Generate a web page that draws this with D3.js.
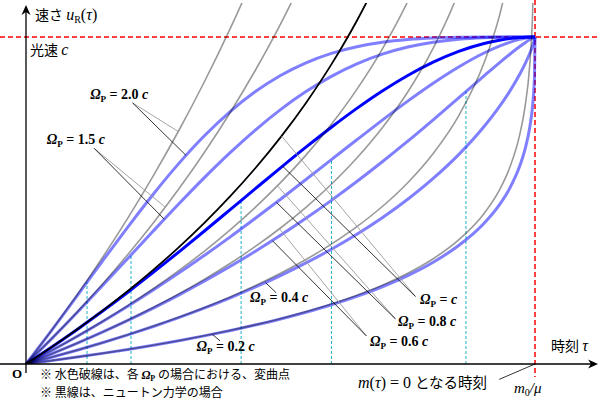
<!DOCTYPE html>
<html>
<head>
<meta charset="utf-8">
<script src="https://cdn.jsdelivr.net/npm/d3@7"></script>
<style>
  body { margin: 0; background: #fff; }
  svg { display: block; }
  text { white-space: pre; }
  .jp { font-family: "Noto Sans CJK JP", sans-serif; }
  .math { font-family: "Liberation Serif", "DejaVu Serif", serif; }
</style>
</head>
<body>
<svg width="600" height="400"></svg>
<script>
// 時刻 τ を m0/μ で割った値
const tSamples = [0, 0.05, 0.1, 0.15, 0.2, 0.25, 0.3, 0.35, 0.4, 0.45, 0.5, 0.55, 0.6, 0.65, 0.7,
                  0.75, 0.8, 0.85, 0.9, 0.93, 0.95, 0.97, 0.98, 0.99, 0.995, 0.998, 0.999, 1];

// 相対論の場合の速さ u_R / c  (Ω_P = 0.2c ... 2.0c)
const relU02 = [0, 0.0103, 0.0211, 0.0325, 0.0446, 0.0575, 0.0712, 0.0860, 0.1018, 0.1190, 0.1377, 0.1584, 0.1812, 0.2069,
                0.2362, 0.2704, 0.3112, 0.3622, 0.4305, 0.4868, 0.5364, 0.6052, 0.6541, 0.7264, 0.7856, 0.8463, 0.8813, 1];
const relU04 = [0, 0.0205, 0.0421, 0.0649, 0.0890, 0.1146, 0.1417, 0.1706, 0.2016, 0.2347, 0.2704, 0.3090, 0.3509, 0.3969,
                0.4475, 0.5039, 0.5675, 0.6404, 0.7264, 0.7870, 0.8331, 0.8859, 0.9162, 0.9510, 0.9716, 0.9862, 0.9921, 1];
const relU06 = [0, 0.0308, 0.0631, 0.0972, 0.1331, 0.1709, 0.2108, 0.2529, 0.2973, 0.3441, 0.3935, 0.4455, 0.5004, 0.5580,
                0.6184, 0.6814, 0.7468, 0.8138, 0.8813, 0.9210, 0.9465, 0.9707, 0.9819, 0.9921, 0.9965, 0.9988, 0.9995, 1];
const relU08 = [0, 0.0410, 0.0841, 0.1293, 0.1766, 0.2262, 0.2779, 0.3316, 0.3873, 0.4449, 0.5039, 0.5641, 0.6250, 0.6858,
                0.7457, 0.8038, 0.8585, 0.9082, 0.9510, 0.9720, 0.9836, 0.9927, 0.9962, 0.9987, 0.9996, 0.9999, 1, 1];
const relU10 = [0, 0.0513, 0.1050, 0.1611, 0.2195, 0.2800, 0.3423, 0.4060, 0.4706, 0.5355, 0.6000, 0.6632, 0.7241, 0.7817,
                0.8349, 0.8824, 0.9231, 0.9560, 0.9802, 0.9902, 0.9950, 0.9982, 0.9992, 0.9998, 1, 1, 1, 1];
const relU15 = [0, 0.0768, 0.1567, 0.2391, 0.3228, 0.4066, 0.4892, 0.5691, 0.6447, 0.7147, 0.7778, 0.8330, 0.8797, 0.9178,
                0.9474, 0.9692, 0.9841, 0.9933, 0.9980, 0.9993, 0.9998, 1, 1, 1, 1, 1, 1, 1];
const relU20 = [0, 0.1022, 0.2077, 0.3141, 0.4188, 0.5193, 0.6128, 0.6971, 0.7705, 0.8323, 0.8824, 0.9212, 0.9501, 0.9704,
                0.9839, 0.9922, 0.9968, 0.9990, 0.9998, 1, 1, 1, 1, 1, 1, 1, 1, 1];

// ニュートン力学の場合の速さ / c （上端を越えたところで打ち切り）
const newU02 = [0, 0.0103, 0.0211, 0.0325, 0.0446, 0.0575, 0.0713, 0.0862, 0.1022, 0.1196, 0.1386, 0.1597, 0.1833, 0.2100,
                0.2408, 0.2773, 0.3219, 0.3794, 0.4605, 0.5319, 0.5991, 0.7013, 0.7824, 0.9210, 1.0597, 1.2429];
const newU04 = [0, 0.0205, 0.0421, 0.0650, 0.0893, 0.1151, 0.1427, 0.1723, 0.2043, 0.2391, 0.2773, 0.3194, 0.3665, 0.4199,
                0.4816, 0.5545, 0.6438, 0.7588, 0.9210, 1.0637, 1.1983];
const newU06 = [0, 0.0308, 0.0632, 0.0975, 0.1339, 0.1726, 0.2140, 0.2585, 0.3065, 0.3587, 0.4159, 0.4791, 0.5498, 0.6299,
                0.7224, 0.8318, 0.9657, 1.1383, 1.3816];
const newU08 = [0, 0.0410, 0.0843, 0.1300, 0.1785, 0.2301, 0.2853, 0.3446, 0.4087, 0.4783, 0.5545, 0.6388, 0.7330, 0.8399,
                0.9632, 1.1090, 1.2876];
const newU10 = [0, 0.0513, 0.1054, 0.1625, 0.2231, 0.2877, 0.3567, 0.4308, 0.5108, 0.5978, 0.6931, 0.7985, 0.9163, 1.0498,
                1.2040, 1.3863];
const newU15 = [0, 0.0769, 0.1580, 0.2438, 0.3347, 0.4315, 0.5350, 0.6462, 0.7662, 0.8968, 1.0397, 1.1978, 1.3744];
const newU20 = [0, 0.1026, 0.2107, 0.3250, 0.4463, 0.5754, 0.7133, 0.8616, 1.0217, 1.1957, 1.3863];

// 変曲点 (Ω_P = 2.0c, 1.5c, c, 0.8c, 0.6c)
const inflT = [0.1199, 0.2063, 0.4226, 0.6001, 0.8644];
const inflU = [0.25, 0.3333, 0.5, 0.625, 0.8333];

// ラベル: 文字, 文字位置, 引き出し線の始点, 青線の終点, 灰線の終点（データ座標）
const labelText  = ["2.0 ", "1.5 ", "", "0.8 ", "0.6 ", "0.4 ", "0.2 "];
const labelPos   = [[0.126, 0.810], [0.041, 0.672], [0.774, 0.184], [0.731, 0.116], [0.676, 0.055], [0.440, 0.190], [0.335, 0.040]];
const leadStart  = [[0.2093, 0.7985], [0.1339, 0.6595], [0.7652, 0.2064], [0.7258, 0.138], [0.6687, 0.0859], [0.4915, 0.2178], [0.3813, 0.0706]];
const leadBlue   = [[0.3144, 0.638], [0.2717, 0.4427], [0.504, 0.6051], [0.492, 0.4943], [0.484, 0.3773], [0.4705, 0.2491], [0.366, 0.0910]];
const leadGray   = [[0.2992, 0.711], [0.2736, 0.4796], [0.502, 0.6972], [0.494, 0.545], [0.498, 0.4135], null, null];

const svg = d3.select("svg");
const x = d3.scaleLinear().domain([0, 1]).range([26, 535]);
const y = d3.scaleLinear().domain([0, 1]).range([364, 37]);

svg.append("defs").append("clipPath").attr("id", "plotClip")
    .append("rect").attr("x", 0).attr("y", 3).attr("width", 600).attr("height", y(0) - 3);

// 光速と m0/μ の赤い破線
svg.append("line")
    .attr("x1", 0).attr("x2", 600).attr("y1", y(1)).attr("y2", y(1))
    .attr("stroke", "#ff0000").attr("stroke-width", 1.5).attr("stroke-dasharray", "5,3");
svg.append("line")
    .attr("x1", x(1)).attr("x2", x(1)).attr("y1", 0).attr("y2", 377)
    .attr("stroke", "#ff0000").attr("stroke-width", 1.5).attr("stroke-dasharray", "5,3");

// 変曲点の水色破線
svg.selectAll(".infl")
    .data(inflT)
    .enter()
    .append("line")
    .attr("x1", d => x(d)).attr("x2", d => x(d))
    .attr("y1", y(0)).attr("y2", (d, i) => y(inflU[i]))
    .attr("stroke", "#1ab4c4").attr("stroke-width", 1).attr("stroke-dasharray", "3,2");

const lineGen = d3.line()
    .x((d, i) => x(tSamples[i]))
    .y(d => y(d))
    .curve(d3.curveMonotoneX);

const plot = svg.append("g").attr("clip-path", "url(#plotClip)");

// 相対論（青）
plot.selectAll(".rel")
    .data([relU02, relU04, relU06, relU08, relU15, relU20])
    .enter()
    .append("path")
    .attr("d", lineGen)
    .attr("fill", "none")
    .attr("stroke", "rgba(0,0,255,0.5)")
    .attr("stroke-width", 3);

plot.append("path")
    .attr("d", lineGen(relU10))
    .attr("fill", "none")
    .attr("stroke", "#0000ff")
    .attr("stroke-width", 3);

// ニュートン力学（灰・黒）
plot.selectAll(".newton")
    .data([newU02, newU04, newU06, newU08, newU15, newU20])
    .enter()
    .append("path")
    .attr("d", lineGen)
    .attr("fill", "none")
    .attr("stroke", "rgba(0,0,0,0.4)")
    .attr("stroke-width", 1.6);

plot.append("path")
    .attr("d", lineGen(newU10))
    .attr("fill", "none")
    .attr("stroke", "#000")
    .attr("stroke-width", 1.8);

// 引き出し線
leadStart.forEach((s, i) => {
    if (leadGray[i]) {
        svg.append("line")
            .attr("x1", x(s[0])).attr("y1", y(s[1]))
            .attr("x2", x(leadGray[i][0])).attr("y2", y(leadGray[i][1]))
            .attr("stroke", "#9a9a9a").attr("stroke-width", 0.9);
    }
    svg.append("line")
        .attr("x1", x(s[0])).attr("y1", y(s[1]))
        .attr("x2", x(leadBlue[i][0])).attr("y2", y(leadBlue[i][1]))
        .attr("stroke", "#000").attr("stroke-width", 0.8);
});

// Ω_P ラベル
labelText.forEach((txt, i) => {
    const t = svg.append("text")
        .attr("class", "math")
        .attr("x", x(labelPos[i][0])).attr("y", y(labelPos[i][1]))
        .attr("font-size", 14).attr("font-weight", "bold");
    t.append("tspan").attr("font-style", "italic").text("Ω");
    t.append("tspan").attr("font-size", 9).attr("dy", 3).text("P");
    t.append("tspan").attr("dy", -3).text(" = " + txt);
    t.append("tspan").attr("font-style", "italic").text("c");
});

// 軸
svg.append("line").attr("x1", x(0)).attr("x2", x(0)).attr("y1", 373).attr("y2", 10)
    .attr("stroke", "#000").attr("stroke-width", 1.3);
svg.append("line").attr("x1", 0).attr("x2", 592).attr("y1", y(0)).attr("y2", y(0))
    .attr("stroke", "#000").attr("stroke-width", 1.3);
svg.append("path")
    .attr("d", `M${x(0)},5 L${x(0) + 4.5},15 L${x(0)},12 L${x(0) - 4.5},15 Z`)
    .attr("fill", "#000");
svg.append("path")
    .attr("d", `M598,${y(0)} L588,${y(0) - 4.5} L591,${y(0)} L588,${y(0) + 4.5} Z`)
    .attr("fill", "#000");

// 軸ラベル
const yl = svg.append("text").attr("x", 35).attr("y", 20).attr("font-size", 14);
yl.append("tspan").attr("class", "jp").text("速さ ");
yl.append("tspan").attr("class", "math").attr("font-style", "italic").attr("font-size", 16).text("u");
yl.append("tspan").attr("class", "math").attr("font-size", 10).attr("dy", 3).text("R");
yl.append("tspan").attr("class", "math").attr("font-size", 16).attr("dy", -3).text("(");
yl.append("tspan").attr("class", "math").attr("font-style", "italic").attr("font-size", 16).text("τ");
yl.append("tspan").attr("class", "math").attr("font-size", 16).text(")");

const cl = svg.append("text").attr("x", 30).attr("y", 55).attr("font-size", 14);
cl.append("tspan").attr("class", "jp").text("光速 ");
cl.append("tspan").attr("class", "math").attr("font-style", "italic").attr("font-size", 16).text("c");

const xl = svg.append("text").attr("x", 551).attr("y", 351).attr("font-size", 14);
xl.append("tspan").attr("class", "jp").text("時刻 ");
xl.append("tspan").attr("class", "math").attr("font-style", "italic").attr("font-size", 16).text("τ");

svg.append("text").attr("class", "math").attr("x", 12).attr("y", 378)
    .attr("font-size", 13).attr("font-weight", "bold").text("O");

const ml = svg.append("text").attr("x", 514).attr("y", 393).attr("class", "math").attr("font-size", 15).attr("font-style", "italic");
ml.append("tspan").text("m");
ml.append("tspan").attr("font-size", 10).attr("dy", 3).attr("font-style", "normal").text("0");
ml.append("tspan").attr("dy", -3).text("/μ");

const zl = svg.append("text").attr("x", 358).attr("y", 388).attr("font-size", 14.5);
zl.append("tspan").attr("class", "math").attr("font-style", "italic").attr("font-size", 16).text("m");
zl.append("tspan").attr("class", "math").attr("font-size", 16).text("(");
zl.append("tspan").attr("class", "math").attr("font-style", "italic").attr("font-size", 16).text("τ");
zl.append("tspan").attr("class", "math").attr("font-size", 16).text(") = 0 ");
zl.append("tspan").attr("class", "jp").text("となる時刻");

svg.append("line")
    .attr("x1", x(0.9297)).attr("y1", y(-0.047))
    .attr("x2", x(1)).attr("y2", y(0))
    .attr("stroke", "#000").attr("stroke-width", 0.8);

// 注記
const n1 = svg.append("text").attr("x", 40).attr("y", 379).attr("font-size", 12);
n1.append("tspan").attr("class", "jp").text("※ 水色破線は、各 ");
n1.append("tspan").attr("class", "math").attr("font-style", "italic").attr("font-weight", "bold").attr("font-size", 12).text("Ω");
n1.append("tspan").attr("class", "math").attr("font-weight", "bold").attr("font-size", 8).attr("dy", 2).text("P");
n1.append("tspan").attr("class", "jp").attr("dy", -2).text(" の場合における、変曲点");

svg.append("text").attr("class", "jp").attr("x", 40).attr("y", 397).attr("font-size", 12)
    .text("※ 黒線は、ニュートン力学の場合");
</script>
</body>
</html>
